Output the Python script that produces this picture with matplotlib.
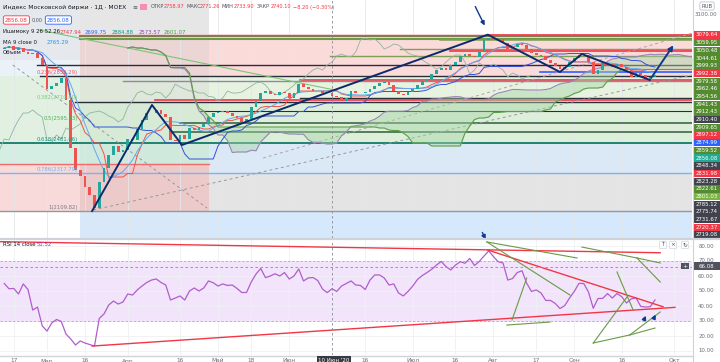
import numpy as np
import pandas as pd
import matplotlib
matplotlib.use('Agg')
import matplotlib.pyplot as plt
from matplotlib.patches import Rectangle
from matplotlib.lines import Line2D

# daily closes of the MOEX index
closes = [3006.3, 3017.3, 2995.3, 3006.3, 2984.3, 2973.3, 2978.8, 2951.3, 2912.8, 2780.8,
          2797.3, 2813.8, 2841.3, 2720.3, 2456.3, 2335.3, 2302.3, 2241.8, 2197.8, 2126.3,
          2269.3, 2346.3, 2417.8, 2467.3, 2434.3, 2445.3, 2505.8, 2500.3, 2560.8, 2610.3,
          2648.8, 2648.8, 2665.3, 2643.3, 2626.8, 2500.3, 2494.8, 2527.8, 2505.8, 2566.3,
          2555.3, 2571.8, 2588.3, 2626.8, 2648.8, 2654.3, 2659.8, 2648.8, 2632.3, 2621.3,
          2599.3, 2615.8, 2681.8, 2714.8, 2758.8, 2769.8, 2753.3, 2747.8, 2764.3, 2758.8,
          2731.3, 2758.8, 2808.3, 2791.8, 2780.8, 2769.8, 2769.8, 2758.8, 2759.0, 2740.1,
          2736.8, 2714.8, 2731.3, 2769.8, 2758.8, 2758.8, 2764.3, 2780.8, 2797.3, 2813.8,
          2819.3, 2802.8, 2769.8, 2753.3, 2747.8, 2764.3, 2780.8, 2802.8, 2824.8, 2835.8,
          2863.3, 2885.3, 2896.3, 2885.3, 2912.8, 2929.3, 2962.3, 2973.3, 2962.3, 2956.8,
          2984.3, 3050.3, 3061.3, 3050.3, 3055.8, 3033.8, 3000.8, 3011.8, 3028.3, 3022.8,
          3000.8, 2978.8, 2967.8, 2962.3, 2940.3, 2923.8, 2907.3, 2890.8, 2901.8, 2929.3,
          2951.3, 2967.8, 2967.8, 2929.3, 2863.3, 2885.3, 2923.8, 2907.3, 2901.8, 2918.3,
          2901.8, 2885.3, 2846.8, 2868.8, 2857.8, 2835.8, 2846.8, 2856.08]

rsi = [55.0, 51.5, 51.7, 48.0, 54.7, 51.0, 37.3, 39.3, 26.7, 23.3,
       28.7, 31.0, 29.7, 21.3, 18.0, 14.0, 16.7, 15.3, 14.3, 13.3,
       31.7, 34.7, 40.7, 43.3, 41.3, 42.7, 48.0, 47.3, 50.7, 53.3,
       55.7, 57.3, 58.0, 55.7, 54.0, 44.0, 45.3, 46.7, 44.0, 50.0,
       52.0, 50.0, 52.0, 56.7, 55.5, 53.3, 54.7, 53.7, 54.0, 51.7,
       49.0, 49.0, 56.0, 61.3, 65.0, 58.9, 60.0, 61.5, 60.0, 62.3,
       58.0, 60.0, 64.7, 56.7, 58.7, 59.0, 57.0, 51.3, 48.9, 51.52,
       49.7, 53.3, 55.0, 56.7, 54.0, 53.7, 51.0, 57.3, 60.7, 60.7,
       58.7, 54.0, 54.7, 48.7, 46.7, 49.7, 53.3, 57.7, 60.3, 62.3,
       64.5, 67.3, 69.7, 66.3, 64.0, 67.3, 69.5, 68.5, 71.7, 67.0,
       69.7, 73.3, 76.7, 72.9, 69.5, 68.7, 57.3, 58.3, 62.3, 63.5,
       55.1, 49.7, 50.7, 48.7, 43.7, 43.7, 41.7, 38.3, 40.3, 45.3,
       49.7, 55.1, 55.0, 49.3, 38.5, 45.0, 45.1, 48.3, 45.3, 48.3,
       46.2, 42.0, 44.7, 45.5, 39.7, 39.3, 39.5, 44.0]

# fibonacci retracement anchors and levels
fib_top, fib_bottom = 3081.64, 2109.82
fib_levels = [0.236, 0.382, 0.5, 0.618, 0.786, 1.0]
fib_colors = ['#f7525f', '#81c784', '#4caf50', '#089981', '#64b5f6', '#787b86']

# navy zigzag (candle index, price)
zz_idx = [18.5, 31.1, 37.4, 101.8, 117.0, 121.6, 135.9]
zz_px = [2109.82, 2692.8, 2472.8, 3079.64, 2874.3, 2973.3, 2830.3]

# horizontal levels: price, start index, colour, width
h_prices = [3079.64, 3074.0, 3056.0, 3050.48, 3000.0, 2992.38, 2962.46, 2912.43, 2874.99,
            2852.32, 2831.98, 2823.28, 2731.67, 2720.37, 2710.40, 2660.0, 2595.71, 2544.0,
            2481.07, 2317.80, 2109.82]
h_start = [101.6, 16, 16, 91.7, 83.3, 93.8, 68.6, 6.9, 112.8,
           7.5, 62.3, 25, 62.3, 31.7, 14.9, 41.2, 37, 34.9,
           -1, -1, -1]
h_colors = ['#f23645', '#857a55', '#6a9b45', '#7f9f52', '#7f9f52', '#f23645', '#7f9f52', '#2a2e39',
            '#2962ff', '#2a2e39', '#f23645', '#8a8d96', '#2a2e39', '#f23645', '#2a2e39', '#2a2e39',
            '#2e5e3e', '#2e5e3e', '#137a6a', '#7fb2f0', '#9598a1']
h_widths = [1.2, 1.5, 1.5, 1.1, 1.0, 1.2, 1.0, 1.0, 1.2, 1.0, 1.2, 1.0, 1.0, 1.2, 1.0, 0.8,
            1.1, 1.1, 1.3, 1.0, 1.0]

axis_labels = ["3079.64", "3059.95", "3050.48", "3044.61", "2999.93", "2992.38", "2979.58",
               "2962.46", "2954.56", "2941.43", "2912.43", "2910.40", "2909.65", "2897.12",
               "2874.99", "2859.52", "2856.08", "2848.34", "2831.98", "2823.28", "2822.61",
               "2801.03", "2785.12", "2775.74", "2731.67", "2720.37", "2719.08"]
R, G, B, T, D, LG = '#f23645', '#558b2f', '#2962ff', '#22ab94', '#40434e', '#7cb342'
axis_label_colors = [R, G, G, G, G, R, G, G, G, G, G, D, G, R, B, G, T, D, R, D, G, LG, D, D, D, R, D]

tick_idx = [2, 9, 17, 26, 37, 45, 52, 60, 76, 86, 95, 103, 112, 120, 130, 141]
tick_text = ["17", "Мар", "16", "Апр", "16", "Май", "18", "Июн", "16", "Июл", "16", "Авг",
             "17", "Сен", "16", "Окт"]

N = len(closes)
x = np.arange(N)
s = pd.Series(closes)
opens = np.r_[3000.0, s.values[:-1]]


def mid(n):
    return (s.rolling(n, min_periods=1).max() + s.rolling(n, min_periods=1).min()) / 2


tenkan = mid(9)
kijun = mid(26)
spanA = (tenkan + kijun) / 2
spanB = mid(52)
ma9 = s.rolling(9, min_periods=1).mean()

W, H = 720, 362
fig = plt.figure(figsize=(7.2, 3.62), dpi=100)
fig.patch.set_facecolor('white')


def fx(px):
    return px / W


def fy(py):
    return 1 - py / H


ax = fig.add_axes([0, fy(238), fx(692), 238 / H])
rax = fig.add_axes([0, fy(355), fx(692), 115 / H])
xl = (-0.895, 144.79)
for a in (ax, rax):
    a.set_xlim(*xl)
    a.set_xticks([])
    a.set_yticks([])
    for sp in a.spines.values():
        sp.set_visible(False)
ax.set_ylim(1961.3, 3270.3)
rax.set_ylim(7.33, 84.0)

# background zones of the fib tools
lv = [fib_top - (fib_top - fib_bottom) * f for f in [0] + fib_levels]
zones = [
    (-1, 15.95, [(2940, 3300, '#e5e8ec'), (lv[1], 2940, '#eaf1f7'), (lv[4], lv[1], '#e2f0e2'),
                 (2368, lv[4], '#d5eee4'), (lv[6], 2368, '#f9dada')]),
    (15.95, 43.1, [(lv[0], 3300, '#e6e6e6'), (lv[1], lv[0], '#ebd5d5'), (lv[2], lv[1], '#dfe7da'),
                   (lv[4], lv[2], '#d6ead5'), (2368, lv[4], '#cfe9dd'), (lv[6], 2368, '#eccaca'),
                   (1900, lv[6], '#d8e8f8')]),
    (43.1, 146, [(lv[1], lv[0], '#fbdada'), (lv[2], lv[1], '#e8f2e1'), (lv[4], lv[2], '#ddefd9'),
                 (lv[5], lv[4], '#dbe9f7'), (lv[6], lv[5], '#e4e4e4'), (1900, lv[6], '#d6e8fb')]),
]
for x0, x1, bands in zones:
    for lo, hi, c in bands:
        ax.add_patch(Rectangle((x0, lo), x1 - x0, hi - lo, color=c, lw=0, zorder=0))

for t in tick_idx:
    ax.axvline(t, color='#e3e6ea', lw=0.6, zorder=0.5)
    rax.axvline(t, color='#eef0f3', lw=0.6, zorder=0.5)

for p, st, c, w in zip(h_prices, h_start, h_colors, h_widths):
    ax.plot([st, 146], [p, p], color=c, lw=w, zorder=1)
ax.plot([-1, 43.1], [2368, 2368], color='#f26b6b', lw=1, zorder=1)

for f, c in zip(fib_levels, fib_colors):
    p = fib_top - (fib_top - fib_bottom) * f
    ax.text(15.5, p + 8, f"{f:g}({p:.2f})", color=c, fontsize=3.8, ha='right', va='bottom', zorder=5)

# dashed guide lines and a light green trend line
ax.plot([1.8, 42.7], [2913, 2126], color='#9598a1', lw=0.7, ls=(0, (3, 3)), zorder=1)
ax.plot([18.7, 144.8], [2115, 2858], color='#9598a1', lw=0.7, ls=(0, (3, 3)), zorder=1)
ax.plot([54.5, 144.8], [2401, 3088], color='#b0a0a8', lw=0.7, ls=(0, (3, 3)), zorder=1)
ax.plot([7.5, 69.6], [3105, 2775], color='#7cc576', lw=0.8, zorder=1)

# ichimoku cloud
xs = x + 26
ax.fill_between(xs, spanA, spanB, color='#a5d6a7', alpha=0.45, lw=0, zorder=1.5)
ax.plot(xs, spanA, color='#9a86b8', lw=0.8, zorder=2)
ax.plot(xs, spanB, color='#5f9e48', lw=0.8, zorder=2)
ax.plot(x - 26, s, color='#8fb5a0', lw=0.6, zorder=2)
ax.plot(x, tenkan, color='#ef5350', lw=0.7, zorder=2)
ax.plot(x, kijun, color='#3452d8', lw=0.7, zorder=2)
ax.plot(x, ma9, color='#64a8f0', lw=0.7, zorder=2)

# candles
up = np.array(closes) >= opens
body = np.array(closes) - opens
body = np.where(np.abs(body) < 2, 2, body)
ax.bar(x, body, bottom=opens, width=0.62, color=np.where(up, '#26a69a', '#ef5350'), lw=0, zorder=3)

ax.plot(zz_idx, zz_px, color='#0d2a6b', lw=1.4, zorder=4)
ax.annotate('', xy=(141.2, 3033.8), xytext=(135.9, 2830.3),
            arrowprops=dict(arrowstyle='-|>', color='#0d3b8c', lw=1.4, mutation_scale=7), zorder=4)
ax.annotate('', xy=(101.4, 3116), xytext=(98.9, 3248),
            arrowprops=dict(arrowstyle='-|>', color='#0d3b8c', lw=1.0, mutation_scale=6), zorder=4)

# crosshair
ax.axvline(69, color='#8a8d96', lw=0.6, ls=(0, (3, 3)), zorder=6)
rax.axvline(69, color='#8a8d96', lw=0.6, ls=(0, (3, 3)), zorder=6)
rax.axhline(66.08, color='#8a8d96', lw=0.6, ls=(0, (3, 3)), zorder=6)

# RSI panel
for v in range(10, 90, 10):
    rax.axhline(v, color='#eef0f3', lw=0.6, zorder=0.4)
rax.axhspan(30, 70, color='#f2e4fa', lw=0, zorder=0.3)
rax.axhline(70, color='#b8a7c8', lw=0.6, ls=(0, (3, 2)), zorder=0.6)
rax.axhline(30, color='#b8a7c8', lw=0.6, ls=(0, (3, 2)), zorder=0.6)
rax.plot(x, rsi, color='#b15dcc', lw=0.9, zorder=3)
rax.plot([-0.9, 138.1], [82.9, 75.5], color='#f23645', lw=1.0, zorder=4)
rax.plot([18.5, 141.2], [13.3, 39.1], color='#f23645', lw=1.0, zorder=4)
rax.plot([101.8, 138.7], [77.3, 39.5], color='#f23645', lw=1.0, zorder=4)
greens = [((101.6, 82.7), (119.1, 47.3)), ((101.6, 82.7), (120.6, 72.0)),
          ((106.9, 30.7), (110.0, 58.7)), ((105.8, 27.3), (114.9, 29.3)),
          ((121.6, 79.3), (133.2, 72.0)), ((133.2, 72.0), (138.1, 68.7)),
          ((133.2, 72.0), (138.1, 56.0)), ((129.0, 62.7), (132.4, 37.3)),
          ((124.0, 15.3), (131.1, 46.0)), ((124.0, 15.3), (131.7, 20.7)),
          ((131.7, 20.7), (137.0, 25.3)), ((131.7, 20.7), (138.1, 36.0))]
for (a0, b0), (a1, b1) in greens:
    rax.plot([a0, a1], [b0, b1], color='#6a9a45', lw=0.8, zorder=4)
for (a0, b0), (a1, b1) in [((134.5, 29.3), (135.3, 35.3)), ((136.6, 30.7), (137.4, 36.0))]:
    rax.annotate('', xy=(a1, b1), xytext=(a0, b0),
                 arrowprops=dict(arrowstyle='-|>', color='#0d3b8c', lw=1.3, mutation_scale=5), zorder=5)
rax.annotate('', xy=(101.6, 82.7), xytext=(100.4, 90.7), annotation_clip=False,
             arrowprops=dict(arrowstyle='-|>', color='#0d3b8c', lw=1.0, mutation_scale=6), zorder=5)

# frame lines
fig.add_artist(Line2D([0, 1], [fy(239), fy(239)], color='#cfd2d8', lw=1.6))
fig.add_artist(Line2D([fx(692.5), fx(692.5)], [0, 1], color='#cfd2d8', lw=0.8))
fig.add_artist(Line2D([0, fx(692)], [fy(355.5), fy(355.5)], color='#cfd2d8', lw=1.0))

# right price labels
for k, (lab, c) in enumerate(zip(axis_labels, axis_label_colors)):
    yy = 35 + 7.69 * k
    fig.add_artist(Rectangle((fx(693), fy(yy + 3.8)), 27 / W, 7.4 / H, color=c, lw=0,
                             transform=fig.transFigure))
    fig.text(fx(706.5), fy(yy), lab, color='white', fontsize=3.9, ha='center', va='center')
fig.text(fx(707), fy(6), "RUB", color='#50535e', fontsize=3.8, ha='center', va='center',
         bbox=dict(boxstyle='round,pad=0.3', fc='white', ec='#b2b5be', lw=0.5))
fig.text(fx(706), fy(14), "3100.00", color='#6a6d78', fontsize=3.9, ha='center', va='center')
for v in range(10, 90, 10):
    fig.text(fx(706), fy(246 + (80 - v) * 1.5), f"{v:.2f}", color='#6a6d78', fontsize=3.9,
             ha='center', va='center')
fig.add_artist(Rectangle((fx(693), fy(269.8)), 27 / W, 7.6 / H, color='#50535e', lw=0,
                         transform=fig.transFigure))
fig.text(fx(706.5), fy(266), "66.08", color='white', fontsize=3.9, ha='center', va='center')
fig.text(fx(685), fy(266), "+", color='white', fontsize=4.5, ha='center', va='center',
         bbox=dict(boxstyle='square,pad=0.15', fc='#50535e', ec='none'))
for px, sym in [(663, "↑"), (673, "×"), (685, "↻")]:
    fig.text(fx(px), fy(245), sym, color='#50535e', fontsize=4.2, ha='center', va='center',
             bbox=dict(boxstyle='round,pad=0.2', fc='white', ec='#d1d4dc', lw=0.5))

# header and legends
dark, grey = '#131722', '#50535e'
fig.text(fx(3), fy(7), "Индекс Московской биржи · 1Д · MOEX", color=dark, fontsize=4.3, va='center')
fig.add_artist(Rectangle((fx(140), fy(10)), 7 / W, 6 / H, color='#f48fb1', lw=0,
                         transform=fig.transFigure))
fig.text(fx(132), fy(7), "≡", color=grey, fontsize=4.3, va='center')
for txt, px, c in [("ОТКР", 151, grey), ("2758.97", 164, R), ("МАКС", 186, grey), ("2771.26", 200, R),
                   ("МИН", 222, grey), ("2733.90", 234, R), ("ЗАКР", 257, grey), ("2740.10", 271, R),
                   ("−8.20 (−0.30%)", 293, R)]:
    fig.text(fx(px), fy(7), txt, color=c, fontsize=3.6, va='center')
fig.text(fx(5), fy(20), "2856.08", color=R, fontsize=4.0, va='center',
         bbox=dict(boxstyle='round,pad=0.3', fc='white', ec=R, lw=0.6))
fig.text(fx(32), fy(20), "0.00", color=grey, fontsize=3.5, va='center')
fig.text(fx(47), fy(20), "2856.08", color=B, fontsize=4.0, va='center',
         bbox=dict(boxstyle='round,pad=0.3', fc='white', ec=B, lw=0.6))
fig.text(fx(3), fy(32), "Ишимоку 9 26 52 26", color=dark, fontsize=3.9, va='center')
for txt, px, c in [("2747.94", 60, R), ("2699.75", 85, B), ("2884.88", 112, '#089981'),
                   ("2573.57", 139, '#8e44ad'), ("2601.07", 164, '#43a047')]:
    fig.text(fx(px), fy(32), txt, color=c, fontsize=3.9, va='center')
fig.text(fx(3), fy(42), "MA 9 close 0", color=dark, fontsize=3.9, va='center')
fig.text(fx(47), fy(42), "2765.29", color='#2196f3', fontsize=3.9, va='center')
fig.text(fx(3), fy(52), "Объем", color=dark, fontsize=3.9, va='center')
fig.text(fx(3), fy(244), "RSI 14 close", color=dark, fontsize=3.9, va='center')
fig.text(fx(37), fy(244), "51.52", color='#9c27b0', fontsize=3.9, va='center')

# time axis (mostly cut off at the bottom edge)
for t, lab in zip(tick_idx, tick_text):
    fig.text(fx(4.25 + 4.75 * t), fy(358.5), lab, color='#6a6d78', fontsize=4.2, ha='center', va='top')
fig.text(fx(334), fy(360), "10 Июн '20", color='white', fontsize=4.0, ha='center', va='center',
         bbox=dict(boxstyle='square,pad=0.3', fc='#363a45', ec='none'))

fig.savefig('out.png', dpi=100, facecolor='white')
